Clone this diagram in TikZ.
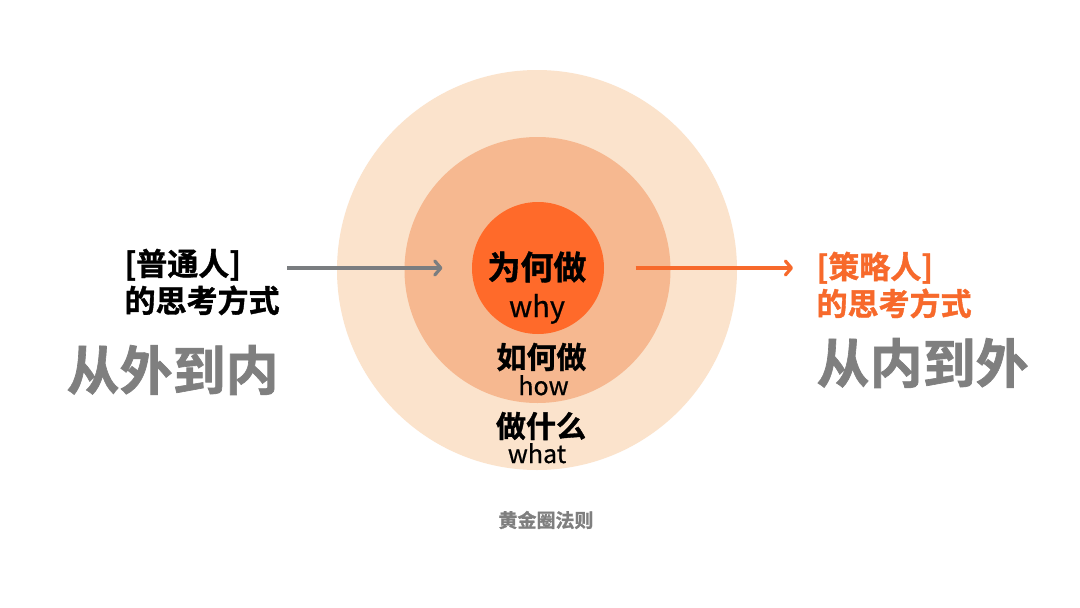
\documentclass[tikz,border=0pt]{standalone}
\usepackage{fontspec}
\setmainfont{Noto Sans CJK SC}[BoldFont={Noto Sans CJK SC Bold},BoldFeatures={FakeBold=1.2}]
\newfontfamily\latinfont{Noto Sans CJK SC}[FakeBold=0.6]
\usetikzlibrary{positioning,arrows.meta}
\definecolor{ringout}{HTML}{FBE3CC}
\definecolor{ringmid}{HTML}{F6B890}
\definecolor{ringin}{HTML}{FF6A2A}
\definecolor{accent}{HTML}{F7692B}
\definecolor{greytext}{HTML}{7F7F7F}
\definecolor{greyline}{HTML}{7A7D80}
\def\fs#1#2{\fontsize{#1}{#2}\selectfont}
\tikzstyle{ring}=[circle,inner sep=0pt]
\tikzstyle{cnbig}=[inner sep=0pt,font=\bfseries\fs{33}{36}]
\tikzstyle{cnmid}=[inner sep=0pt,font=\bfseries\fs{30}{34}]
\tikzstyle{enbig}=[inner sep=0pt,font=\latinfont\fs{29}{32},anchor=base]
\tikzstyle{enmid}=[inner sep=0pt,font=\latinfont\fs{25}{28},anchor=base]
\tikzstyle{side}=[inner sep=0pt,anchor=west,align=left,font=\bfseries\fs{31}{37}]
\tikzstyle{motto}=[inner sep=0pt,anchor=west,text=greytext,font=\bfseries\fs{53}{56}]
\newcommand{\newRing}[4]{\node[ring,fill=#2,minimum size=#3](#1) at #4 {};}

\begin{document}
\begin{tikzpicture}[x=1pt,y=-1pt,
      >={Straight Barb[length=6pt,width=14pt,round]},
      line width=3.2pt
      ]
      \useasboundingbox[fill=white] (0,0) rectangle (1080,608);
      % the three rings
      \newRing{outer}{ringout}{400pt}{(537,270)}
      \newRing{middle}{ringmid}{266pt}{(537.5,270)}
      \newRing{core}{ringin}{132pt}{(538,268)}
      \node[cnbig] (why) at (537,267) {为何做};
      \node[enbig] (whyen) at (537,317) {why};
      \node[cnmid] (how) at (541.5,357) {如何做};
      \node[enmid] (howen) at (543.5,395) {how};
      \node[cnmid] (what) at (541,426) {做什么};
      \node[enmid] (whaten) at (537,463) {what};
      % left side
      \node[side] (commonlbl) at (123,282) {[普通人]\\的思考方式};
      \node[motto] (outin) at (65,370) {从外到内};
      % right side
      \node[side,text=accent] (stratlbl) at (815,285) {[策略人]\\的思考方式};
      \node[motto] (inout) at (815,363) {从内到外};
      \node[inner sep=0pt,text=greytext,font=\bfseries\fs{19}{21}] (title) at (546,520) {黄金圈法则};
      \coordinate (gstart) at (287,268);
      \draw[->,greyline,shorten >=28pt] (gstart) -- (core.west);
      \draw[->,accent,shorten <=30pt,shorten >=22pt] (core.east) -- (core.east -| stratlbl.west);
    \end{tikzpicture}
\end{document}
